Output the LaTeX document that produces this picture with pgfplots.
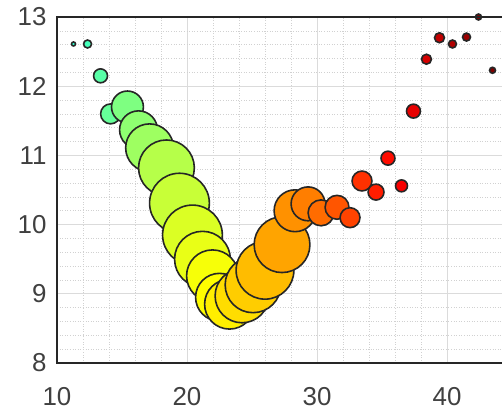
\documentclass[border=0pt]{standalone}
\usepackage{pgfplots}
\pgfplotsset{compat=1.18}
\usepackage{pgfplotstable}
\usepackage{fontspec}
\setmainfont{Liberation Sans}
\definecolor{axgray}{RGB}{38,38,38}
\definecolor{lblgray}{RGB}{64,64,64}
\pgfplotstableread{
x y r
11.27 12.61 2
12.35 12.61 4
13.35 12.15 7
14.12 11.60 10
15.42 11.70 16
16.27 11.37 19
17.12 11.11 24
18.42 10.82 28
19.42 10.31 30
20.42 9.85 30
21.19 9.50 28
21.96 9.26 26
22.50 8.95 24
23.27 8.85 25
24.23 8.97 27
25.08 9.13 28
26.00 9.34 29
27.31 9.71 28
28.31 10.20 21
29.31 10.30 17
30.31 10.17 13
31.54 10.25 12
32.54 10.10 10
33.46 10.63 10
34.54 10.47 8
35.46 10.96 7
36.50 10.56 6
37.42 11.64 7
38.42 12.39 5
39.42 12.70 5
40.42 12.61 4
41.50 12.71 4
42.42 13.00 3
43.50 12.23 3
}\bubbles
\begin{document}
\begin{tikzpicture}
\begin{axis}[name=ax, at={(0,0)}, anchor=south west,
  scale only axis, width=445bp, height=346bp,
  xmin=10, xmax=44.23, ymin=8, ymax=13,
  xtick={10,20,30,40}, ytick={8,9,10,11,12,13},
  minor x tick num=4, minor y tick num=4,
  grid=both,
  major grid style={color=black!14, line width=0.7bp},
  minor grid style={color=black!18, line width=0.6bp, dotted},
  axis line style={draw=none},
  major tick length=0pt, minor tick length=0pt,
  tick label style={font=\fontsize{26}{30}\selectfont, text=lblgray},
  /pgf/number format/assume math mode=true,
  xticklabel style={yshift=-21bp},
  yticklabel style={xshift=-7bp},
  colormap/jet, point meta min=-12, point meta max=43,
  clip=false]
\addplot[scatter, only marks, mark=*,
  point meta=x,
  scatter/use mapped color={draw=black!85, fill=mapped color},
  visualization depends on={\thisrow{r} \as \perpointmarksize},
  scatter/@pre marker code/.append style={/tikz/mark size=\perpointmarksize},
  mark options={line width=1.6bp}] table[x=x, y=y] {\bubbles};
\end{axis}
\draw[axgray, line width=1.6bp] (ax.north east) -- (ax.north west) -- (ax.south west) -- (ax.south east);
\pgfresetboundingbox
\path[use as bounding box] (-57bp,-48bp) rectangle (445bp,363bp);
\end{tikzpicture}
\end{document}
